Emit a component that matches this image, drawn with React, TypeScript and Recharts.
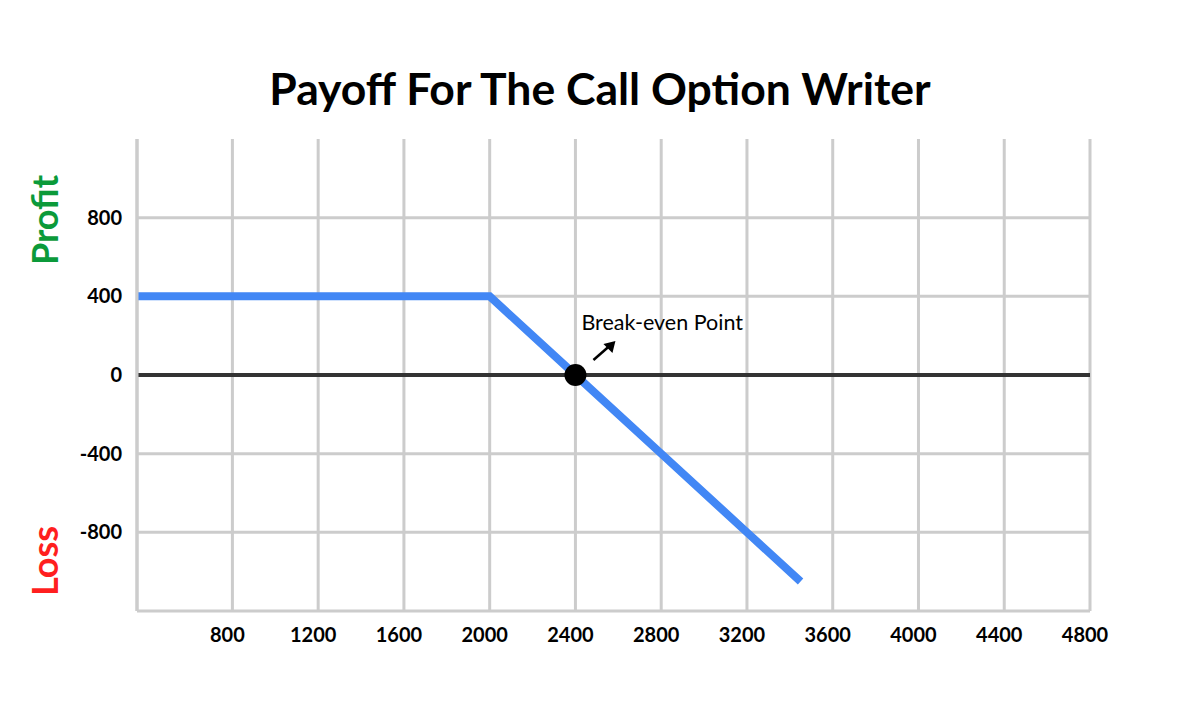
import { LineChart, Line, XAxis, YAxis, CartesianGrid, ReferenceLine, ReferenceDot } from 'recharts';

const xDomain = [355, 4800];
const yDomain = [-1200, 1200];
const xTicks = [800, 1200, 1600, 2000, 2400, 2800, 3200, 3600, 4000, 4400, 4800];
const yTicks = [-800, -400, 0, 400, 800];
const gridYValues = [-800, -400, 400, 800];

// underlying price vs. writer payoff
const prices = [355, 2000, 2400, 2800, 3200, 3450];
const payoffs = [400, 400, 0, -400, -800, -1050];

const breakEven = { x: 2400, y: 0 };

const data = prices.map((p, i) => ({ price: p, payoff: payoffs[i] }));

const FONT = 'Lato, "Open Sans", sans-serif';

function BreakEvenLabel(props: any) {
  const vb = props.viewBox || {};
  const cx = vb.x + (vb.width || 0) / 2;
  const cy = vb.y + (vb.height || 0) / 2;
  return (
    <g>
      <text x={cx + 6} y={cy - 45} fontSize={21.5} fontFamily={FONT} fill="#000">
        Break-even Point
      </text>
      <line x1={cx + 18} y1={cy - 15} x2={cx + 34} y2={cy - 29} stroke="#000" strokeWidth={2.5} />
      <polygon
        points={`${cx + 40},${cy - 34} ${cx + 28},${cy - 31} ${cx + 37},${cy - 22}`}
        fill="#000"
      />
    </g>
  );
}

export default function App() {
  return (
    <div style={{ position: 'fixed', left: 0, top: 0, width: 1200, height: 707, background: '#fff' }}>
      <div
        style={{
          position: 'absolute',
          left: 0,
          top: 61,
          width: 1200,
          textAlign: 'center',
          fontFamily: FONT,
          fontWeight: 700,
          fontSize: 44.5,
          lineHeight: 1.2,
          color: '#000',
        }}
      >
        Payoff For The Call Option Writer
      </div>
      <svg style={{ position: 'absolute', left: 0, top: 0 }} width={140} height={707}>
        <text
          transform="translate(58, 220) rotate(-90)"
          textAnchor="middle"
          fontFamily={FONT}
          fontWeight={700}
          fontSize={36}
          fill="#0b9a3a"
        >
          Profit
        </text>
        <text
          transform="translate(58, 561) rotate(-90)"
          textAnchor="middle"
          fontFamily={FONT}
          fontWeight={700}
          fontSize={36}
          fill="#ff1f1f"
        >
          Loss
        </text>
      </svg>
      <div style={{ position: 'absolute', left: 0, top: 0 }}>
        <LineChart width={1200} height={707} data={data} margin={{ top: 139, right: 110, bottom: 0, left: 0 }}>
          <CartesianGrid stroke="#cccccc" strokeWidth={3} horizontalValues={gridYValues} />
          <XAxis
            type="number"
            dataKey="price"
            domain={xDomain}
            ticks={xTicks}
            height={96}
            tickSize={0}
            tickMargin={17}
            axisLine={{ stroke: '#cccccc', strokeWidth: 3 }}
            tick={{ fontSize: 20, fontWeight: 700, fill: '#000', fontFamily: FONT, dx: -5 }}
            allowDataOverflow
          />
          <YAxis
            type="number"
            domain={yDomain}
            ticks={yTicks}
            width={137}
            tickSize={0}
            tickMargin={15}
            axisLine={{ stroke: '#cccccc', strokeWidth: 3 }}
            tick={{ fontSize: 20, fontWeight: 700, fill: '#000', fontFamily: FONT }}
          />
          <ReferenceLine y={0} stroke="#333333" strokeWidth={4} />
          <Line
            type="linear"
            dataKey="payoff"
            stroke="#4287f5"
            strokeWidth={8}
            dot={false}
            activeDot={false}
            isAnimationActive={false}
          />
          <ReferenceDot
            x={breakEven.x}
            y={breakEven.y}
            r={11}
            fill="#000"
            stroke="none"
            label={<BreakEvenLabel />}
          />
        </LineChart>
      </div>
    </div>
  );
}
